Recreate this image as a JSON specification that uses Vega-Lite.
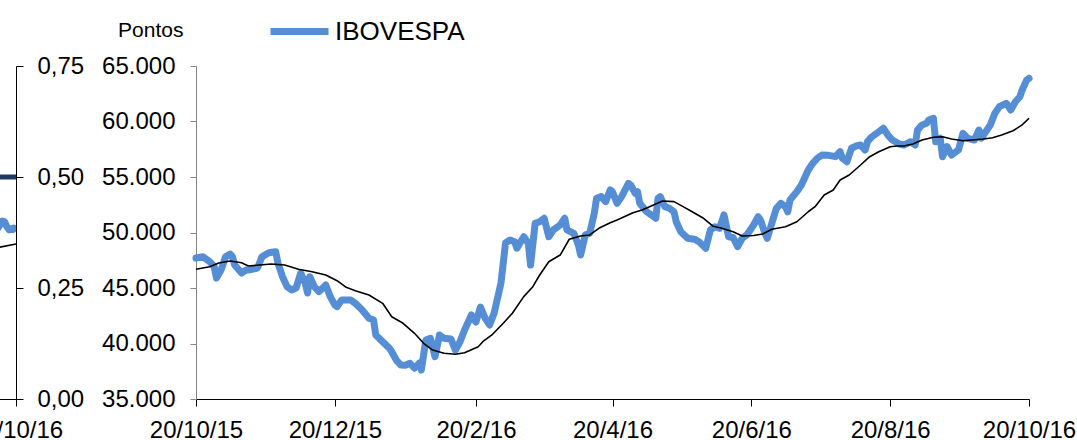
{
  "$schema": "https://vega.github.io/schema/vega-lite/v6.json",
  "padding": {"left": -31, "top": -1, "right": 0, "bottom": 0},
  "bounds": "flush",
  "spacing": 180,
  "background": "#ffffff",
  "config": {
    "view": {"stroke": null},
    "axis": {"labelFont": "Liberation Sans", "labelFontSize": 24, "labelColor": "#000000", "titleFont": "Liberation Sans", "titleColor": "#000000", "grid": false, "labelFlush": false, "labelOverlap": false, "labelBound": false},
    "legend": {"labelFont": "Liberation Sans"}
  },
  "datasets": {
    "frag": [
      {"date": "2016/10/11", "series": "s1", "value": 0.5},
      {"date": "2016/10/20", "series": "s1", "value": 0.5},
      {"date": "2016/10/11", "series": "s2", "value": 0.383},
      {"date": "2016/10/12", "series": "s2", "value": 0.384},
      {"date": "2016/10/14", "series": "s2", "value": 0.401},
      {"date": "2016/10/15", "series": "s2", "value": 0.399},
      {"date": "2016/10/16", "series": "s2", "value": 0.388},
      {"date": "2016/10/17", "series": "s2", "value": 0.381},
      {"date": "2016/10/19", "series": "s2", "value": 0.385},
      {"date": "2016/10/20", "series": "s2", "value": 0.377},
      {"date": "2016/10/11", "series": "s3", "value": 0.340},
      {"date": "2016/10/20", "series": "s3", "value": 0.349}
    ],
    "ibov": [
      {"date": "2015/10/20", "value": 47700},
      {"date": "2015/10/23", "value": 47820},
      {"date": "2015/10/26", "value": 47370},
      {"date": "2015/10/28", "value": 46920},
      {"date": "2015/10/29", "value": 45900},
      {"date": "2015/10/31", "value": 46620},
      {"date": "2015/11/02", "value": 47820},
      {"date": "2015/11/04", "value": 48060},
      {"date": "2015/11/05", "value": 47820},
      {"date": "2015/11/06", "value": 47070},
      {"date": "2015/11/09", "value": 46350},
      {"date": "2015/11/11", "value": 46620},
      {"date": "2015/11/13", "value": 46650},
      {"date": "2015/11/16", "value": 46800},
      {"date": "2015/11/18", "value": 47820},
      {"date": "2015/11/21", "value": 48180},
      {"date": "2015/11/24", "value": 48270},
      {"date": "2015/11/25", "value": 47250},
      {"date": "2015/11/27", "value": 46020},
      {"date": "2015/11/29", "value": 45120},
      {"date": "2015/12/01", "value": 44820},
      {"date": "2015/12/03", "value": 45000},
      {"date": "2015/12/05", "value": 46350},
      {"date": "2015/12/07", "value": 45450},
      {"date": "2015/12/08", "value": 44550},
      {"date": "2015/12/09", "value": 46020},
      {"date": "2015/12/11", "value": 45120},
      {"date": "2015/12/13", "value": 44670},
      {"date": "2015/12/16", "value": 45270},
      {"date": "2015/12/18", "value": 44220},
      {"date": "2015/12/20", "value": 43470},
      {"date": "2015/12/21", "value": 43320},
      {"date": "2015/12/23", "value": 43920},
      {"date": "2015/12/27", "value": 43920},
      {"date": "2015/12/29", "value": 43620},
      {"date": "2016/01/01", "value": 43020},
      {"date": "2016/01/04", "value": 42270},
      {"date": "2016/01/06", "value": 42120},
      {"date": "2016/01/07", "value": 40770},
      {"date": "2016/01/10", "value": 40160},
      {"date": "2016/01/13", "value": 39570},
      {"date": "2016/01/14", "value": 39260},
      {"date": "2016/01/16", "value": 38510},
      {"date": "2016/01/18", "value": 38060},
      {"date": "2016/01/20", "value": 38050},
      {"date": "2016/01/22", "value": 38220},
      {"date": "2016/01/24", "value": 37770},
      {"date": "2016/01/26", "value": 38220},
      {"date": "2016/01/27", "value": 37610},
      {"date": "2016/01/28", "value": 38960},
      {"date": "2016/01/29", "value": 40320},
      {"date": "2016/01/31", "value": 40470},
      {"date": "2016/02/02", "value": 38810},
      {"date": "2016/02/04", "value": 40770},
      {"date": "2016/02/06", "value": 40470},
      {"date": "2016/02/09", "value": 40400},
      {"date": "2016/02/11", "value": 39410},
      {"date": "2016/02/13", "value": 40160},
      {"date": "2016/02/15", "value": 41220},
      {"date": "2016/02/18", "value": 42570},
      {"date": "2016/02/20", "value": 41940},
      {"date": "2016/02/22", "value": 43290},
      {"date": "2016/02/24", "value": 42300},
      {"date": "2016/02/26", "value": 41670},
      {"date": "2016/02/28", "value": 42750},
      {"date": "2016/03/02", "value": 45450},
      {"date": "2016/03/04", "value": 49050},
      {"date": "2016/03/06", "value": 49320},
      {"date": "2016/03/08", "value": 49170},
      {"date": "2016/03/09", "value": 48580},
      {"date": "2016/03/12", "value": 49620},
      {"date": "2016/03/14", "value": 49030},
      {"date": "2016/03/15", "value": 47070},
      {"date": "2016/03/17", "value": 50830},
      {"date": "2016/03/19", "value": 50970},
      {"date": "2016/03/21", "value": 51280},
      {"date": "2016/03/23", "value": 49620},
      {"date": "2016/03/25", "value": 50230},
      {"date": "2016/03/28", "value": 50680},
      {"date": "2016/03/30", "value": 51280},
      {"date": "2016/03/31", "value": 50230},
      {"date": "2016/04/03", "value": 49930},
      {"date": "2016/04/05", "value": 48870},
      {"date": "2016/04/06", "value": 47970},
      {"date": "2016/04/08", "value": 49780},
      {"date": "2016/04/10", "value": 49930},
      {"date": "2016/04/12", "value": 51730},
      {"date": "2016/04/13", "value": 53080},
      {"date": "2016/04/15", "value": 53230},
      {"date": "2016/04/17", "value": 52780},
      {"date": "2016/04/19", "value": 53830},
      {"date": "2016/04/20", "value": 53650},
      {"date": "2016/04/22", "value": 52630},
      {"date": "2016/04/24", "value": 53230},
      {"date": "2016/04/27", "value": 54430},
      {"date": "2016/04/28", "value": 54280},
      {"date": "2016/04/30", "value": 53530},
      {"date": "2016/05/01", "value": 53680},
      {"date": "2016/05/02", "value": 52630},
      {"date": "2016/05/05", "value": 51870},
      {"date": "2016/05/07", "value": 51580},
      {"date": "2016/05/09", "value": 51280},
      {"date": "2016/05/10", "value": 53080},
      {"date": "2016/05/11", "value": 53230},
      {"date": "2016/05/13", "value": 52330},
      {"date": "2016/05/15", "value": 52180},
      {"date": "2016/05/17", "value": 51870},
      {"date": "2016/05/18", "value": 50970},
      {"date": "2016/05/20", "value": 50070},
      {"date": "2016/05/23", "value": 49480},
      {"date": "2016/05/26", "value": 49400},
      {"date": "2016/05/28", "value": 49170},
      {"date": "2016/05/31", "value": 48580},
      {"date": "2016/06/02", "value": 50230},
      {"date": "2016/06/04", "value": 50520},
      {"date": "2016/06/06", "value": 50380},
      {"date": "2016/06/08", "value": 51580},
      {"date": "2016/06/10", "value": 49620},
      {"date": "2016/06/12", "value": 49550},
      {"date": "2016/06/14", "value": 48720},
      {"date": "2016/06/16", "value": 49480},
      {"date": "2016/06/18", "value": 49780},
      {"date": "2016/06/21", "value": 50680},
      {"date": "2016/06/23", "value": 51420},
      {"date": "2016/06/24", "value": 51130},
      {"date": "2016/06/26", "value": 49930},
      {"date": "2016/06/27", "value": 49480},
      {"date": "2016/06/29", "value": 50830},
      {"date": "2016/07/01", "value": 52180},
      {"date": "2016/07/03", "value": 52630},
      {"date": "2016/07/05", "value": 52330},
      {"date": "2016/07/06", "value": 51870},
      {"date": "2016/07/07", "value": 52930},
      {"date": "2016/07/10", "value": 53680},
      {"date": "2016/07/12", "value": 54280},
      {"date": "2016/07/14", "value": 55180},
      {"date": "2016/07/15", "value": 55630},
      {"date": "2016/07/17", "value": 56230},
      {"date": "2016/07/19", "value": 56690},
      {"date": "2016/07/21", "value": 56980},
      {"date": "2016/07/24", "value": 56950},
      {"date": "2016/07/27", "value": 56830},
      {"date": "2016/07/29", "value": 57280},
      {"date": "2016/07/30", "value": 56690},
      {"date": "2016/08/01", "value": 56380},
      {"date": "2016/08/03", "value": 57590},
      {"date": "2016/08/05", "value": 57790},
      {"date": "2016/08/07", "value": 57880},
      {"date": "2016/08/09", "value": 57430},
      {"date": "2016/08/10", "value": 58180},
      {"date": "2016/08/12", "value": 58630},
      {"date": "2016/08/15", "value": 59080},
      {"date": "2016/08/17", "value": 59390},
      {"date": "2016/08/19", "value": 58780},
      {"date": "2016/08/21", "value": 58330},
      {"date": "2016/08/24", "value": 57970},
      {"date": "2016/08/26", "value": 57880},
      {"date": "2016/08/29", "value": 58180},
      {"date": "2016/08/31", "value": 57880},
      {"date": "2016/09/01", "value": 59230},
      {"date": "2016/09/03", "value": 59690},
      {"date": "2016/09/05", "value": 59840},
      {"date": "2016/09/06", "value": 60140},
      {"date": "2016/09/08", "value": 60290},
      {"date": "2016/09/09", "value": 58180},
      {"date": "2016/09/11", "value": 58490},
      {"date": "2016/09/12", "value": 56830},
      {"date": "2016/09/14", "value": 57730},
      {"date": "2016/09/16", "value": 56980},
      {"date": "2016/09/19", "value": 57430},
      {"date": "2016/09/21", "value": 58940},
      {"date": "2016/09/23", "value": 58490},
      {"date": "2016/09/26", "value": 58330},
      {"date": "2016/09/28", "value": 59230},
      {"date": "2016/09/29", "value": 58490},
      {"date": "2016/10/01", "value": 59080},
      {"date": "2016/10/03", "value": 59690},
      {"date": "2016/10/05", "value": 60740},
      {"date": "2016/10/07", "value": 61330},
      {"date": "2016/10/10", "value": 61640},
      {"date": "2016/10/12", "value": 61040},
      {"date": "2016/10/14", "value": 61780},
      {"date": "2016/10/16", "value": 62230},
      {"date": "2016/10/17", "value": 62840},
      {"date": "2016/10/19", "value": 63740},
      {"date": "2016/10/20", "value": 63890}
    ],
    "mm": [
      {"date": "2015/10/20", "value": 46690},
      {"date": "2015/10/26", "value": 46920},
      {"date": "2015/10/30", "value": 47250},
      {"date": "2015/11/04", "value": 47430},
      {"date": "2015/11/09", "value": 47280},
      {"date": "2015/11/12", "value": 46980},
      {"date": "2015/11/17", "value": 47070},
      {"date": "2015/11/22", "value": 47160},
      {"date": "2015/11/28", "value": 47070},
      {"date": "2015/12/04", "value": 46690},
      {"date": "2015/12/10", "value": 46470},
      {"date": "2015/12/16", "value": 46170},
      {"date": "2015/12/21", "value": 45660},
      {"date": "2015/12/25", "value": 45060},
      {"date": "2015/12/29", "value": 44760},
      {"date": "2016/01/04", "value": 44370},
      {"date": "2016/01/10", "value": 43620},
      {"date": "2016/01/14", "value": 42410},
      {"date": "2016/01/19", "value": 41820},
      {"date": "2016/01/24", "value": 40920},
      {"date": "2016/01/28", "value": 40020},
      {"date": "2016/02/01", "value": 39410},
      {"date": "2016/02/06", "value": 39120},
      {"date": "2016/02/11", "value": 39030},
      {"date": "2016/02/15", "value": 39170},
      {"date": "2016/02/21", "value": 39710},
      {"date": "2016/02/23", "value": 40160},
      {"date": "2016/02/27", "value": 40770},
      {"date": "2016/03/03", "value": 41820},
      {"date": "2016/03/07", "value": 42720},
      {"date": "2016/03/12", "value": 44220},
      {"date": "2016/03/16", "value": 45120},
      {"date": "2016/03/19", "value": 46170},
      {"date": "2016/03/23", "value": 47370},
      {"date": "2016/03/28", "value": 47970},
      {"date": "2016/04/01", "value": 49390},
      {"date": "2016/04/06", "value": 49690},
      {"date": "2016/04/10", "value": 49780},
      {"date": "2016/04/14", "value": 50380},
      {"date": "2016/04/19", "value": 50880},
      {"date": "2016/04/22", "value": 51130},
      {"date": "2016/04/29", "value": 51780},
      {"date": "2016/05/03", "value": 52030},
      {"date": "2016/05/08", "value": 52480},
      {"date": "2016/05/12", "value": 52840},
      {"date": "2016/05/17", "value": 52780},
      {"date": "2016/05/21", "value": 52330},
      {"date": "2016/05/25", "value": 51870},
      {"date": "2016/05/30", "value": 51280},
      {"date": "2016/06/03", "value": 50590},
      {"date": "2016/06/07", "value": 50380},
      {"date": "2016/06/12", "value": 50070},
      {"date": "2016/06/16", "value": 49690},
      {"date": "2016/06/21", "value": 49730},
      {"date": "2016/06/25", "value": 49870},
      {"date": "2016/06/29", "value": 50290},
      {"date": "2016/07/05", "value": 50520},
      {"date": "2016/07/10", "value": 50970},
      {"date": "2016/07/15", "value": 51870},
      {"date": "2016/07/18", "value": 52330},
      {"date": "2016/07/22", "value": 53380},
      {"date": "2016/07/26", "value": 53830},
      {"date": "2016/07/29", "value": 54730},
      {"date": "2016/08/02", "value": 55180},
      {"date": "2016/08/07", "value": 56080},
      {"date": "2016/08/11", "value": 56830},
      {"date": "2016/08/15", "value": 57280},
      {"date": "2016/08/20", "value": 57730},
      {"date": "2016/08/23", "value": 57790},
      {"date": "2016/08/26", "value": 57790},
      {"date": "2016/08/30", "value": 57970},
      {"date": "2016/09/03", "value": 58330},
      {"date": "2016/09/08", "value": 58580},
      {"date": "2016/09/12", "value": 58630},
      {"date": "2016/09/16", "value": 58420},
      {"date": "2016/09/21", "value": 58270},
      {"date": "2016/09/25", "value": 58330},
      {"date": "2016/09/30", "value": 58420},
      {"date": "2016/10/04", "value": 58540},
      {"date": "2016/10/08", "value": 58780},
      {"date": "2016/10/13", "value": 59170},
      {"date": "2016/10/17", "value": 59690},
      {"date": "2016/10/20", "value": 60290}
    ]
  },
  "resolve": {"scale": {"x": "independent", "y": "independent", "color": "independent"}},
  "hconcat": [
    {
      "width": 18,
      "height": 333,
      "data": {"name": "frag"},
      "encoding": {
        "x": {
          "field": "date", "type": "temporal",
          "scale": {"domain": [{"year": 2016, "month": 10, "date": 12, "hours": 3}, {"year": 2016, "month": 10, "date": 20}]},
          "axis": {"title": null, "values": [{"year": 2016, "month": 10, "date": 20}], "format": "%-d/%-m/%y", "domainColor": "#000000", "tickColor": "#000000", "tickSize": 7, "labelPadding": 12}
        },
        "y": {
          "field": "value", "type": "quantitative",
          "scale": {"domain": [0, 0.75]},
          "axis": {"orient": "right", "title": null, "values": [0, 0.25, 0.5, 0.75], "labelExpr": "replace(format(datum.value, '.2f'), '.', ',')", "domainColor": "#000000", "tickColor": "#000000", "tickSize": 7, "labelPadding": 14}
        }
      },
      "layer": [
        {
          "transform": [{"filter": "datum.series == 's1'"}],
          "mark": {"type": "line", "clip": true, "color": "#1F3864", "strokeWidth": 5}
        },
        {
          "transform": [{"filter": "datum.series == 's2'"}],
          "mark": {"type": "line", "clip": true, "color": "#558ED5", "strokeWidth": 7, "strokeJoin": "round"}
        },
        {
          "transform": [{"filter": "datum.series == 's3'"}],
          "mark": {"type": "line", "clip": true, "color": "#000000", "strokeWidth": 1.6}
        }
      ]
    },
    {
      "width": 833,
      "height": 333,
      "encoding": {
        "x": {
          "field": "date", "type": "temporal",
          "scale": {"domain": [{"year": 2015, "month": 10, "date": 20}, {"year": 2016, "month": 10, "date": 20}]},
          "axis": {
            "title": null,
            "values": [
              {"year": 2015, "month": 10, "date": 20},
              {"year": 2015, "month": 12, "date": 20},
              {"year": 2016, "month": 2, "date": 20},
              {"year": 2016, "month": 4, "date": 20},
              {"year": 2016, "month": 6, "date": 20},
              {"year": 2016, "month": 8, "date": 20},
              {"year": 2016, "month": 10, "date": 20}
            ],
            "format": "%-d/%-m/%y", "domainColor": "#000000", "tickColor": "#000000", "tickSize": 7, "labelPadding": 12
          }
        },
        "y": {
          "field": "value", "type": "quantitative",
          "scale": {"domain": [35000, 65000]},
          "axis": {
            "values": [35000, 40000, 45000, 50000, 55000, 60000, 65000],
            "labelExpr": "replace(format(datum.value, ','), ',', '.')",
            "domainColor": "#868686", "tickColor": "#868686", "tickSize": 6, "labelPadding": 15,
            "title": "Pontos", "titleAngle": 0, "titleAlign": "right", "titleBaseline": "alphabetic", "titleX": -13, "titleY": -30, "titleFontSize": 21, "titleFontWeight": "normal"
          }
        }
      },
      "layer": [
        {
          "data": {"name": "ibov"},
          "mark": {"type": "line", "strokeWidth": 7, "strokeCap": "round", "strokeJoin": "round"},
          "encoding": {
            "color": {
              "datum": "IBOVESPA", "type": "nominal",
              "scale": {"domain": ["IBOVESPA"], "range": ["#558ED5"]},
              "legend": {"title": null, "orient": "none", "legendX": 71, "legendY": -67, "symbolType": "stroke", "symbolSize": 3364, "symbolStrokeWidth": 7, "labelFontSize": 26, "labelColor": "#000000", "labelOffset": 3, "padding": 0}
            }
          }
        },
        {
          "data": {"name": "mm"},
          "mark": {"type": "line", "strokeWidth": 1.6, "color": "#000000", "strokeJoin": "round"}
        }
      ]
    }
  ]
}
